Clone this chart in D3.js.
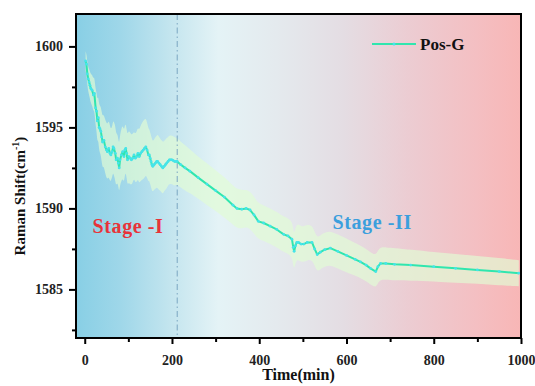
<!DOCTYPE html>
<html>
<head>
<meta charset="utf-8">
<script src="https://cdn.jsdelivr.net/npm/d3@7"></script>
<style>
  body { margin: 0; background: #ffffff; }
  text { font-family: "Liberation Serif", "Times New Roman", serif; font-weight: bold; }
</style>
</head>
<body>
<svg id="chart" width="535" height="386"></svg>
<script>
// Pos-G band position over time
const time = [
  2,4,6,8,10,12,14,17,20,22,25,27,29,31,33,35,37,39,41,44,47,50,
  52,55,58,60,63,65,67,70,72,75,77,79,81,84,87,90,92,94,96,98,101,
  104,107,110,113,116,119,122,125,128,131,134,137,140,143,146,148,150,
  152,154,156,159,162,165,167,170,173,176,179,182,185,188,191,194,197,200,203,206,209,212,
  220,230,241,260,280,300,320,340,349,360,370,379,388,398,410,425,440,456,466,475,
  478,480,483,486,490,496,502,510,521,527,533,540,550,563,580,
  600,620,632,645,655,667,672,678,690,710,747,800,850,900,950,995
];
const shift = [
  1599.1,1598.9,1598.3,1598.0,1597.8,1597.6,1597.4,1597.3,1597.0,1597.1,1596.2,1596.0,1595.4,1595.6,1595.0,1594.9,1594.75,1594.4,1594.1,1594.2,1593.8,1593.6,
  1593.5,1593.7,1593.4,1593.3,1593.5,1593.8,1593.7,1593.4,1593.0,1593.1,1592.8,1592.5,1593.0,1593.3,1593.5,1593.2,1593.6,1593.7,1593.4,1593.0,1593.2,
  1593.1,1593.0,1593.1,1593.3,1593.1,1593.2,1593.4,1593.2,1593.4,1593.5,1593.6,1593.7,1593.8,1593.6,1593.3,1593.3,1593.1,
  1592.9,1592.7,1592.6,1592.7,1592.8,1592.9,1592.9,1592.8,1592.7,1592.6,1592.5,1592.6,1592.7,1592.8,1592.9,1593.0,1593.0,1593.0,1592.95,1592.9,1592.9,1592.9,
  1592.7,1592.5,1592.3,1591.9,1591.5,1591.1,1590.7,1590.2,1590.0,1589.95,1590.0,1589.9,1589.6,1589.2,1589.1,1588.9,1588.7,1588.4,1588.3,1588.1,
  1587.6,1587.35,1587.7,1587.9,1587.9,1587.8,1587.8,1587.9,1587.9,1587.5,1587.15,1587.3,1587.45,1587.55,1587.35,
  1587.1,1586.85,1586.7,1586.5,1586.3,1586.1,1586.4,1586.6,1586.6,1586.55,1586.5,1586.4,1586.3,1586.2,1586.1,1586.0
];
// half-width of the shaded uncertainty band (cm^-1)
const spread = [
  0.6,0.65,0.7,0.75,0.8,0.85,0.9,0.95,1.0,1.05,1.1,1.2,1.3,1.35,1.4,1.45,1.5,1.55,1.6,1.6,1.65,1.7,
  1.7,1.75,1.7,1.6,1.55,1.6,1.65,1.7,1.6,1.5,1.45,1.5,1.55,1.6,1.65,1.6,1.55,1.5,1.5,1.55,1.6,
  1.6,1.55,1.5,1.45,1.5,1.55,1.6,1.65,1.7,1.75,1.8,1.8,1.75,1.7,1.65,1.6,1.6,
  1.6,1.6,1.55,1.55,1.6,1.6,1.65,1.65,1.6,1.6,1.6,1.55,1.55,1.55,1.5,1.5,1.5,1.5,1.5,1.5,1.45,1.45,
  1.4,1.4,1.35,1.3,1.3,1.25,1.25,1.2,1.2,1.2,1.15,1.15,1.15,1.1,1.1,1.1,1.1,1.1,1.1,1.1,
  1.1,1.1,1.1,1.1,1.1,1.1,1.1,1.1,1.05,1.05,1.05,1.05,1.05,1.05,1.05,
  1.05,1.0,1.0,1.0,1.0,1.0,1.0,1.0,1.0,1.0,0.95,0.9,0.9,0.85,0.85,0.8
];

const xMajor = [0, 200, 400, 600, 800, 1000];
const xMinor = [100, 300, 500, 700, 900];
const yMajor = [1585, 1590, 1595, 1600];
const yMinor = [1582.5, 1587.5, 1592.5, 1597.5];
const stageBoundary = 212;
const seriesName = "Pos-G";
const stageLabels = ["Stage -I", "Stage -II"];

const svg = d3.select("#chart");
const m = { left: 76, right: 14, top: 14, bottom: 48 };
const W = 535, H = 386;
const pw = W - m.left - m.right, ph = H - m.top - m.bottom;

const x = d3.scaleLinear().domain([-20, 1000]).range([0, pw]);
const y = d3.scaleLinear().domain([1582, 1602]).range([ph, 0]);

// horizontal blue → white → pink backdrop
const defs = svg.append("defs");
const grad = defs.append("linearGradient").attr("id", "bg").attr("x1", 0).attr("x2", 1).attr("y1", 0).attr("y2", 0);
[[0, "#88cfe5"], [0.1, "#9fd7e9"], [0.22, "#c6e6ef"], [0.32, "#e4f3f6"], [0.45, "#e4eaee"],
 [0.6, "#e4dde3"], [0.75, "#ecccd2"], [0.9, "#f4bfc2"], [1, "#f8b6b6"]]
  .forEach(([o, c]) => grad.append("stop").attr("offset", o).attr("stop-color", c));
defs.append("clipPath").attr("id", "clip").append("rect").attr("width", pw).attr("height", ph);

const g = svg.append("g").attr("transform", `translate(${m.left},${m.top})`);
g.append("rect").attr("width", pw).attr("height", ph).attr("fill", "url(#bg)");

const data = time.map((t, i) => ({ t, v: shift[i], e: spread[i] }));
const plot = g.append("g").attr("clip-path", "url(#clip)");

// uncertainty band
plot.append("path")
  .datum(data)
  .attr("fill", "rgba(226,252,212,0.68)")
  .attr("d", d3.area().curve(d3.curveBasis)
    .x(d => x(d.t)).y0(d => y(d.v - d.e)).y1(d => y(d.v + d.e)));

// stage boundary
plot.append("line")
  .attr("x1", x(stageBoundary)).attr("x2", x(stageBoundary))
  .attr("y1", 0).attr("y2", ph)
  .attr("stroke", "#7aa6c2").attr("stroke-width", 1)
  .attr("stroke-dasharray", "6,3,1.5,3");

// Pos-G trace
plot.append("path")
  .datum(data)
  .attr("fill", "none")
  .attr("stroke", "#30e6ae")
  .attr("stroke-width", 2)
  .attr("stroke-linejoin", "round")
  .attr("d", d3.line().x(d => x(d.t)).y(d => y(d.v)));

plot.selectAll("circle.pt").data(data).enter().append("circle")
  .attr("class", "pt")
  .attr("cx", d => x(d.t)).attr("cy", d => y(d.v)).attr("r", 1.4)
  .attr("fill", "#46e4ea");

// stage labels
g.append("text").attr("x", x(18)).attr("y", y(1588.5))
  .attr("fill", "#e8333a").attr("font-size", 20).attr("letter-spacing", 0.6).text(stageLabels[0]);
g.append("text").attr("x", x(568)).attr("y", y(1588.7))
  .attr("fill", "#3b9fdd").attr("font-size", 20).attr("letter-spacing", 0.6).text(stageLabels[1]);

// legend
const lg = g.append("g").attr("transform", `translate(${372 - m.left},${44 - m.top})`);
lg.append("line").attr("x1", 0).attr("x2", 44).attr("stroke", "#30e6ae").attr("stroke-width", 2);
lg.append("circle").attr("cx", 22).attr("r", 1.5).attr("fill", "#46e4ea");
lg.append("text").attr("x", 48).attr("y", 5.5).attr("font-size", 17).attr("fill", "#111").text(seriesName);

// frame
g.append("rect").attr("width", pw).attr("height", ph)
  .attr("fill", "none").attr("stroke", "#000").attr("stroke-width", 2);

// axes
g.append("g").attr("transform", `translate(0,${ph})`)
  .call(d3.axisBottom(x).tickValues(xMajor).tickSize(6).tickPadding(11).tickFormat(d3.format("d")));
g.append("g").attr("transform", `translate(0,${ph})`)
  .call(d3.axisBottom(x).tickValues(xMinor).tickSize(4).tickFormat(""));
g.append("g")
  .call(d3.axisLeft(y).tickValues(yMajor).tickSize(7).tickPadding(6).tickFormat(d3.format("d")));
g.append("g")
  .call(d3.axisLeft(y).tickValues(yMinor).tickSize(4).tickFormat(""));

g.selectAll(".domain").remove();
g.selectAll(".tick line").attr("stroke", "#000").attr("stroke-width", 2);
g.selectAll(".tick text").attr("font-size", 14).attr("fill", "#222")
  .style("font-family", "'Liberation Serif', serif").style("font-weight", "bold");

// axis titles
svg.append("text").attr("x", m.left + pw / 2).attr("y", 380)
  .attr("text-anchor", "middle").attr("font-size", 16).attr("fill", "#111").text("Time(min)");

const yt = svg.append("text")
  .attr("transform", `translate(25,${m.top + ph / 2 + 20}) rotate(-90)`)
  .attr("text-anchor", "middle").attr("font-size", 15).attr("fill", "#111");
yt.append("tspan").text("Raman Shift(cm");
yt.append("tspan").attr("dy", -6).attr("font-size", 10).text("-1");
yt.append("tspan").attr("dy", 6).text(")");
</script>
</body>
</html>
